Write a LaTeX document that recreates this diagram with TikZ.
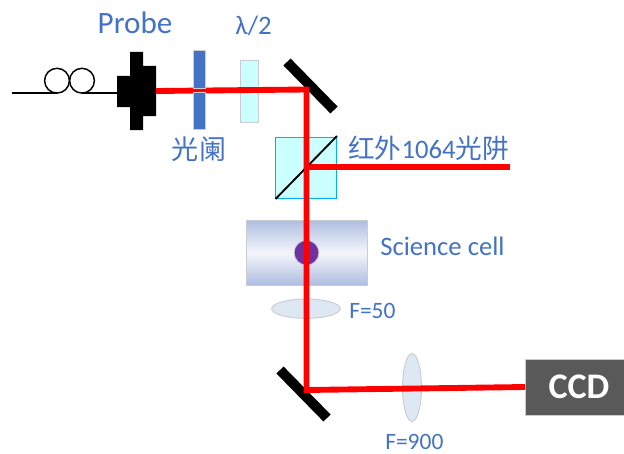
\documentclass[tikz,border=0pt]{standalone}
\usepackage{fontspec}
\setmainfont{Carlito}
\newfontfamily\cjk{Noto Sans CJK SC}
\definecolor{lbl}{HTML}{4472C4}
\definecolor{plate}{HTML}{CCFFFF}
\definecolor{cubeb}{HTML}{00B0F0}
\definecolor{lens}{HTML}{DEE8F3}
\definecolor{edge}{HTML}{C8CDD2}
\definecolor{cellc}{HTML}{AEBDE0}
\definecolor{cellm}{HTML}{F4F6FC}
\definecolor{atom}{HTML}{7030A0}
\definecolor{ccdc}{HTML}{595959}
\tikzset{
 txt/.style={text=lbl,inner sep=0pt,anchor=base},
 beam/.style={draw=red,line width=4.4pt,line join=miter},
 mirror/.style={draw=black,line width=7.5pt},
 fiber/.style={draw=black,line width=1.4pt},
 lensb/.style={ellipse,draw=edge,fill=lens,line width=.7pt,inner sep=0pt},
 boxb/.style={rectangle,inner sep=0pt,line width=.7pt},
}
\usetikzlibrary{shapes.geometric}
\begin{document}
\begin{tikzpicture}[x=.75pt,y=-.75pt]
\useasboundingbox (0,0) rectangle (624,453);
% fibre
\coordinate (f0) at (12,93);
\coordinate (f1) at (57,93);
\coordinate (f2) at (82,93);
\coordinate (f3) at (118,93);
\node[circle,draw=black,line width=1.1pt,minimum size=18.6pt,inner sep=0pt] (loopa) at (57,80.7) {};
\node[circle,draw=black,line width=1.1pt,minimum size=18.6pt,inner sep=0pt] (loopb) at (82,80.7) {};
\draw[fiber] (f0) -- (f1);
\draw[fiber] (f2) -- (f3);
% connector
\fill[black] (130,52) -- (143,52) -- (143,66) -- (156,66) -- (156,116) -- (143,116) -- (143,130) -- (130,130) -- (130,107) -- (117,107) -- (117,76) -- (130,76) -- cycle;
% plates
\node[boxb,fill=plate,draw=edge,minimum width=14pt,minimum height=46.5pt] (wp) at (249.5,91) {};
\node[boxb,fill=plate,draw=cubeb,minimum width=46.2pt,minimum height=46.2pt] (cube) at (306,168) {};
% cell
\shade[top color=cellc,bottom color=cellc,middle color=cellm,draw=edge,line width=.7pt] (246,220) rectangle (367,285);
\node[circle,fill=atom,draw=edge,line width=.6pt,minimum size=18.6pt,inner sep=0pt] (atomc) at (306.5,252.7) {};
% lenses
\node[lensb,minimum width=51.5pt,minimum height=14.5pt] (l50) at (306,308.7) {};
\node[lensb,minimum width=14.2pt,minimum height=51pt] (l900) at (412,387.5) {};
% mirrors
\coordinate (m1a) at (287,62);
\coordinate (m1b) at (334,110);
\coordinate (m2a) at (280,370);
\coordinate (m2b) at (327,418);
\draw[mirror] (m1a) -- (m1b);
\draw[mirror] (m2a) -- (m2b);
% CCD
\node[boxb,fill=ccdc,draw=edge,minimum width=74.5pt,minimum height=41.5pt] (ccd) at (574.7,387.5) {};
% beams
\coordinate (b0) at (156,91);
\coordinate (b1) at (306.5,89.5);
\coordinate (b2) at (306.5,390);
\coordinate (b3) at (525,387);
\coordinate (b4) at (306.5,167);
\coordinate (b5) at (510,167);
\draw[beam] (b0) -- (b1) -- (b2) -- (b3);
\draw[beam] (b4) -- (b5);
\coordinate (d0) at (275.5,199);
\coordinate (d1) at (337,136);
\draw[black,line width=1.4pt] (d0) -- (d1);
\draw[beam] (306.5,160) -- (306.5,180);
% aperture blades, over the beam
\node[boxb,fill=lbl,draw=edge,minimum width=9.6pt,minimum height=27.8pt] (apa) at (199.5,69.5) {};
\node[boxb,fill=lbl,draw=edge,minimum width=9.6pt,minimum height=28.2pt] (apb) at (199.5,111) {};
% labels
\node[txt,font=\fontsize{23.3}{25}\selectfont] (tprobe) at (135,34) {Probe};
\node[txt,font=\fontsize{20}{22}\selectfont] (tlam) at (253.5,35) {λ/2};
\node[txt,font=\fontsize{20.3}{22}\selectfont\cjk] (tap) at (199,159) {光阑};
\node[txt,anchor=base west,font=\fontsize{20}{22}\selectfont] (tir) at (348,158) {{\cjk 红外}1064{\cjk 光阱}};
\node[txt,anchor=base west,font=\fontsize{20}{22}\selectfont] (tsc) at (380,255) {Science cell};
\node[txt,anchor=base west,font=\fontsize{17.6}{19}\selectfont] (t50) at (349,318) {F=50};
\node[txt,anchor=base west,font=\fontsize{17.6}{19}\selectfont] (t900) at (385,449.5) {F=900};
\node[inner sep=0pt,anchor=base,text=white,font=\bfseries\fontsize{27}{29}\selectfont] (tccd) at (579,398) {CCD};
\end{tikzpicture}
\end{document}
